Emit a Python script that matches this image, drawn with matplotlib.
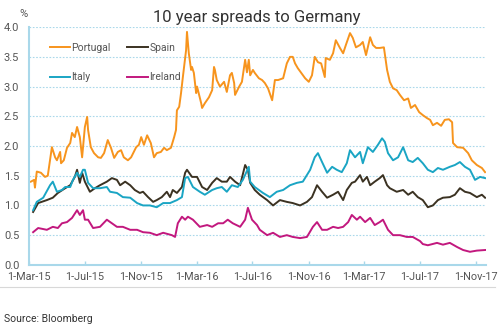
import datetime as dt
import matplotlib
matplotlib.use("Agg")
import matplotlib.pyplot as plt
from matplotlib.lines import Line2D

# 10y spread to Bunds (%); x = days after 1-Mar-2015
start = dt.date(2015, 3, 1)

portugal_day = [4, 11, 13, 17, 26, 35, 41, 50, 57, 61, 68, 70, 76, 83, 90, 94, 100, 105, 111, 116,
                122, 127, 129, 135, 142, 151, 157, 164, 172, 179, 186, 194, 201, 207, 216, 223, 234,
                240, 245, 251, 258, 266, 273, 279, 288, 295, 301, 310, 317, 321, 323, 328, 332, 336,
                343, 345, 349, 354, 356, 360, 365, 367, 376, 378, 384, 393, 400, 404, 406, 410, 417,
                426, 432, 439, 443, 448, 450, 459, 465, 472, 476, 480, 483, 489, 493, 502, 509, 515,
                522, 531, 537, 544, 555, 563, 570, 576, 581, 587, 603, 611, 618, 624, 631, 638, 646,
                648, 657, 664, 670, 679, 686, 692, 701, 707, 714, 723, 729, 736, 745, 751, 758, 766,
                775, 782, 788, 795, 803, 810, 819, 828, 834, 843, 852, 860, 869, 876, 882, 891, 900,
                908, 917, 924, 926, 935, 948, 959, 967, 978, 989, 996]
portugal = [1.40, 1.43, 1.30, 1.57, 1.55, 1.48, 1.50, 1.98, 1.81, 1.76, 1.90, 1.71, 1.76, 1.97, 2.05,
            2.22, 2.15, 2.32, 2.15, 1.81, 2.32, 2.49, 2.27, 1.98, 1.88, 1.81, 1.80, 1.88, 2.10, 1.97,
            1.80, 1.90, 1.93, 1.81, 1.76, 1.81, 1.98, 2.02, 2.15, 2.02, 2.18, 2.05, 1.81, 1.88, 1.90,
            1.97, 1.93, 1.97, 2.15, 2.27, 2.60, 2.66, 2.89, 3.16, 3.61, 3.92, 3.56, 3.28, 3.33, 3.23,
            2.89, 3.00, 2.72, 2.64, 2.72, 2.82, 2.94, 3.33, 3.28, 3.11, 3.00, 3.08, 2.91, 3.19, 3.23,
            3.06, 2.86, 3.00, 3.08, 3.45, 3.24, 3.45, 3.19, 3.28, 3.23, 3.14, 3.11, 3.06, 2.97, 2.77,
            3.11, 3.11, 3.14, 3.39, 3.50, 3.50, 3.39, 3.31, 3.14, 3.08, 3.19, 3.50, 3.41, 3.39, 3.16,
            3.48, 3.45, 3.56, 3.78, 3.65, 3.56, 3.70, 3.90, 3.82, 3.66, 3.70, 3.75, 3.53, 3.83, 3.70,
            3.65, 3.65, 3.66, 3.28, 3.08, 2.97, 2.94, 2.86, 2.77, 2.80, 2.64, 2.69, 2.57, 2.52, 2.47,
            2.44, 2.35, 2.39, 2.34, 2.44, 2.45, 2.40, 2.05, 1.98, 1.97, 1.88, 1.76, 1.68, 1.63, 1.56]

spain_day = [9, 20, 39, 52, 63, 79, 90, 100, 105, 111, 116, 122, 133, 144, 155, 170, 181, 192, 199,
             210, 221, 231, 242, 249, 260, 271, 279, 290, 301, 308, 314, 323, 334, 341, 345, 356, 367,
             378, 389, 400, 410, 421, 432, 439, 450, 461, 472, 478, 483, 493, 504, 520, 533, 548, 563,
             576, 592, 607, 618, 629, 640, 651, 664, 675, 686, 694, 705, 712, 723, 729, 738, 745, 755,
             766, 773, 782, 788, 803, 817, 828, 838, 849, 860, 871, 882, 893, 904, 919, 930, 941, 952,
             963, 978, 989, 996]
spain = [0.89, 1.04, 1.09, 1.13, 1.21, 1.29, 1.34, 1.48, 1.60, 1.38, 1.55, 1.40, 1.23, 1.29, 1.34,
         1.40, 1.46, 1.43, 1.34, 1.40, 1.34, 1.26, 1.21, 1.23, 1.14, 1.06, 1.09, 1.14, 1.23, 1.14,
         1.26, 1.21, 1.31, 1.55, 1.60, 1.48, 1.48, 1.31, 1.26, 1.38, 1.46, 1.40, 1.40, 1.48, 1.40,
         1.34, 1.68, 1.60, 1.38, 1.26, 1.18, 1.09, 1.00, 1.09, 1.06, 1.04, 1.00, 1.06, 1.14, 1.34,
         1.23, 1.13, 1.18, 1.23, 1.09, 1.26, 1.38, 1.40, 1.51, 1.40, 1.48, 1.34, 1.40, 1.46, 1.51,
         1.34, 1.29, 1.23, 1.26, 1.18, 1.23, 1.14, 1.09, 0.97, 1.00, 1.09, 1.13, 1.14, 1.18, 1.29,
         1.23, 1.21, 1.14, 1.18, 1.13]

italy_day = [9, 17, 31, 46, 52, 61, 72, 79, 90, 96, 105, 111, 118, 122, 129, 140, 155, 170, 177, 192,
             205, 221, 236, 249, 264, 279, 293, 308, 323, 334, 341, 347, 358, 373, 384, 400, 410, 421,
             432, 443, 456, 467, 480, 483, 493, 511, 526, 541, 555, 570, 585, 598, 614, 624, 631, 640,
             651, 662, 672, 683, 694, 701, 712, 723, 729, 740, 751, 762, 771, 777, 784, 795, 806, 817,
             828, 838, 849, 860, 871, 882, 893, 904, 919, 930, 941, 952, 963, 974, 985, 996]
italy = [0.92, 1.06, 1.13, 1.34, 1.40, 1.23, 1.26, 1.31, 1.31, 1.43, 1.55, 1.48, 1.60, 1.60, 1.38,
         1.29, 1.29, 1.31, 1.23, 1.21, 1.14, 1.13, 1.04, 1.00, 1.00, 0.97, 1.04, 1.04, 1.09, 1.14,
         1.46, 1.48, 1.31, 1.23, 1.18, 1.26, 1.29, 1.31, 1.23, 1.34, 1.31, 1.43, 1.65, 1.40, 1.31,
         1.21, 1.14, 1.23, 1.26, 1.34, 1.38, 1.40, 1.60, 1.81, 1.88, 1.73, 1.55, 1.65, 1.60, 1.56,
         1.71, 1.93, 1.81, 1.90, 1.71, 1.98, 1.90, 2.02, 2.13, 2.07, 1.88, 1.76, 1.81, 1.98, 1.76,
         1.73, 1.80, 1.71, 1.60, 1.56, 1.63, 1.60, 1.65, 1.68, 1.73, 1.65, 1.60, 1.43, 1.48, 1.46]

ireland_day = [9, 20, 39, 52, 63, 72, 83, 94, 105, 111, 118, 122, 129, 140, 155, 170, 181, 192, 205,
               221, 236, 249, 264, 279, 293, 312, 319, 325, 334, 341, 347, 358, 373, 389, 400, 413,
               424, 434, 445, 461, 472, 478, 487, 498, 504, 520, 533, 548, 563, 576, 592, 607, 620,
               629, 640, 651, 664, 675, 686, 697, 705, 716, 723, 734, 745, 755, 766, 773, 784, 795,
               810, 825, 838, 854, 860, 871, 891, 904, 919, 935, 948, 963, 978, 996]
ireland = [0.55, 0.62, 0.59, 0.64, 0.62, 0.70, 0.72, 0.79, 0.92, 0.84, 0.92, 0.76, 0.76, 0.62, 0.64,
           0.76, 0.70, 0.64, 0.64, 0.59, 0.59, 0.55, 0.54, 0.50, 0.54, 0.50, 0.47, 0.70, 0.81, 0.76,
           0.81, 0.76, 0.64, 0.67, 0.64, 0.70, 0.70, 0.76, 0.70, 0.64, 0.76, 0.96, 0.76, 0.67, 0.59,
           0.50, 0.54, 0.47, 0.50, 0.47, 0.45, 0.47, 0.64, 0.72, 0.59, 0.59, 0.64, 0.62, 0.64, 0.72,
           0.84, 0.76, 0.81, 0.72, 0.79, 0.67, 0.72, 0.76, 0.59, 0.50, 0.50, 0.47, 0.47, 0.40, 0.35,
           0.33, 0.37, 0.34, 0.37, 0.30, 0.25, 0.22, 0.24, 0.25]

tick_dates = ["2015-03-01", "2015-07-01", "2015-11-01", "2016-03-01", "2016-07-01",
              "2016-11-01", "2017-03-01", "2017-07-01", "2017-11-01"]
y_ticks = [0.0, 0.5, 1.0, 1.5, 2.0, 2.5, 3.0, 3.5, 4.0]

ORANGE = "#f7941d"
BROWN = "#3b3222"
TEAL = "#1aa5c4"
MAGENTA = "#c2187e"
AXBLUE = "#a9d8ea"
TXT = "#555555"


def to_dates(days):
    return [start + dt.timedelta(days=d) for d in days]


plt.rcParams["font.family"] = ["Roboto", "DejaVu Sans"]

fig = plt.figure(figsize=(5.0, 3.27), dpi=100)
ax = fig.add_axes([0.058, 0.19, 0.914, 0.727])

lp, = ax.plot(to_dates(portugal_day), portugal, color=ORANGE, lw=1.4, label="Portugal")
ls, = ax.plot(to_dates(spain_day), spain, color=BROWN, lw=1.4, label="Spain")
li, = ax.plot(to_dates(italy_day), italy, color=TEAL, lw=1.4, label="Italy")
lr, = ax.plot(to_dates(ireland_day), ireland, color=MAGENTA, lw=1.4, label="Ireland")

ax.set_xlim(start, start + dt.timedelta(days=998))
ax.set_ylim(0, 4)
ax.set_yticks(y_ticks)
ax.set_yticklabels([f"{v:.1f}" for v in y_ticks])
ticks = [dt.date.fromisoformat(s) for s in tick_dates]
ax.set_xticks(ticks)
ax.set_xticklabels([f"{d.day}-{d.strftime('%b-%y')}" for d in ticks])

ax.grid(axis="y", color=AXBLUE, ls=(0, (1.5, 1.5)), lw=0.8)
ax.set_axisbelow(True)
for s in ["top", "right"]:
    ax.spines[s].set_visible(False)
for s in ["left", "bottom"]:
    ax.spines[s].set_color(AXBLUE)
    ax.spines[s].set_linewidth(1.5)
ax.tick_params(axis="y", length=0, labelsize=8, labelcolor=TXT, pad=7)
ax.tick_params(axis="x", direction="in", length=3, color=AXBLUE, width=1,
               labelsize=7.8, labelcolor=TXT, pad=5)

# two rows: Portugal / Spain, Italy / Ireland
leg = ax.legend([lp, li, ls, lr], ["Portugal", "Italy", "Spain", "Ireland"],
                loc="upper left", bbox_to_anchor=(0.045, 0.935), ncol=2, frameon=False,
                fontsize=7.5, handlelength=2.0, handletextpad=0.1, columnspacing=1.6,
                labelspacing=1.9, borderpad=0, borderaxespad=0)
for t in leg.get_texts():
    t.set_color(TXT)

fig.text(0.514, 0.948, "10 year spreads to Germany", ha="center", va="center",
         fontsize=12, color="#333333")
fig.text(0.046, 0.957, "%", ha="center", va="center", fontsize=8, color=TXT)
fig.add_artist(Line2D([0.0, 0.99], [1 - 287 / 327] * 2, color="#d8d8d8", lw=0.8))
fig.text(0.008, 1 - 319 / 327, "Source: Bloomberg", ha="left", va="center",
         fontsize=7.5, color="#333333")

fig.savefig("out.png", dpi=100)
